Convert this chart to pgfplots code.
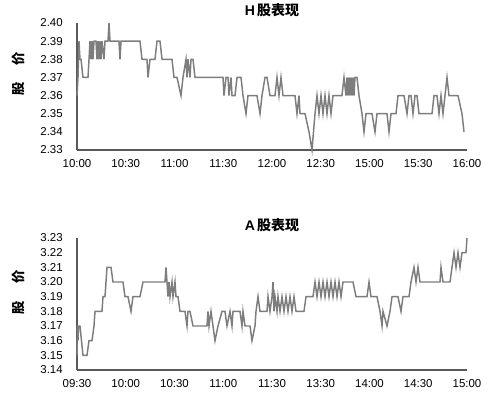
\documentclass[border=0pt]{standalone}
\usepackage{fontspec}
\setmainfont{Liberation Sans}
\newfontfamily\cjk{Noto Sans CJK SC}
\usepackage{pgfplots}
\pgfplotsset{compat=1.18}
\definecolor{linegray}{RGB}{125,125,125}
\definecolor{axgray}{RGB}{90,90,90}
\pgfplotsset{
  panel/.style={
    scale only axis, width=292.5pt, clip=false,
    axis x line*=bottom, axis y line*=left,
    axis line style={axgray, line width=0.8pt, -},
    major tick length=0pt,
    xmin=0, xmax=390,
    xtick={0,48.75,97.5,146.25,195,243.75,292.5,341.25,390},
    /pgf/number format/assume math mode=true,
    ticklabel style={font=\fontsize{8.6}{9}\selectfont, text=black},
    yticklabel style={/pgf/number format/fixed, /pgf/number format/fixed zerofill, /pgf/number format/precision=2, inner sep=0pt, xshift=-10.5pt},
    xticklabel style={inner sep=0pt, yshift=-7pt},
    title style={font=\fontsize{10.5}{12}\selectfont\bfseries, yshift=-5pt},
  }
}
\begin{document}
\begin{tikzpicture}[x=1pt,y=1pt]
\path[use as bounding box] (0,0) rectangle (375,-302.25);
\begin{axis}[panel, at={(57.75pt,-17.25pt)}, anchor=north west,
  height=95.25pt, ymin=2.33, ymax=2.40, ytick={2.33,2.34,...,2.405},
  xticklabels={10:00,10:30,11:00,11:30,12:00,12:30,15:00,15:30,16:00},
  title={H\,{\cjk 股表现}},
  ylabel={\cjk\bfseries 股\hspace{1.3em}价},
  ylabel style={at={(axis description cs:-0.151,0.60)}, anchor=center, rotate=0, font=\fontsize{10}{12}\selectfont},
]
\addplot[linegray, line width=1.1pt] coordinates {
(0,2.36)(1,2.37)(2,2.39)(3,2.38)(4,2.38)(6,2.37)(11,2.37)(12,2.38)(13,2.39)(14,2.38)(15,2.39)(16,2.38)(17,2.39)(19,2.39)(20,2.38)(21,2.39)(22,2.38)(23,2.39)(24,2.38)(25,2.39)(27,2.38)(28,2.39)(31,2.39)(32,2.40)(33,2.39)(42,2.39)(43,2.38)(44,2.39)(63,2.39)(65,2.38)(70,2.38)(71,2.37)(73,2.38)(78,2.38)(80,2.39)(83,2.39)(85,2.38)(95,2.38)(97,2.37)(100,2.37)(104,2.36)(106,2.37)(109,2.38)(110,2.37)(111,2.38)(113,2.37)(114,2.38)(116,2.38)(118,2.37)(146,2.37)(147,2.36)(149,2.37)(151,2.37)(152,2.36)(154,2.37)(155,2.36)(158,2.36)(160,2.37)(164,2.37)(166,2.36)(169,2.35)(171,2.36)(180,2.36)(183,2.35)(185,2.36)(188,2.37)(190,2.37)(193,2.36)(198,2.36)(200,2.37)(202,2.36)(204,2.37)(206,2.36)(218,2.36)(220,2.35)(222,2.36)(223,2.35)(228,2.35)(232,2.34)(235,2.33)(238,2.35)(240,2.36)(242,2.35)(244,2.36)(246,2.35)(248,2.36)(250,2.35)(252,2.36)(254,2.35)(256,2.36)(265,2.36)(267,2.37)(269,2.36)(270,2.37)(271,2.36)(272,2.37)(273,2.36)(274,2.37)(275,2.36)(276,2.37)(277,2.36)(278,2.37)(280,2.37)(282,2.36)(285,2.35)(287,2.34)(289,2.35)(295,2.35)(298,2.34)(300,2.35)(310,2.35)(312,2.34)(314,2.35)(319,2.35)(321,2.36)(327,2.36)(330,2.35)(332,2.36)(334,2.36)(336,2.35)(338,2.36)(340,2.36)(342,2.35)(355,2.35)(357,2.36)(360,2.36)(362,2.35)(364,2.36)(366,2.35)(370,2.37)(372,2.36)(381,2.36)(385,2.35)(387,2.34)
};
\end{axis}
\begin{axis}[panel, at={(57.75pt,-178.5pt)}, anchor=north west,
  height=99pt, ymin=3.14, ymax=3.23, ytick={3.14,3.15,...,3.235},
  xticklabels={09:30,10:00,10:30,11:00,11:30,13:30,14:00,14:30,15:00},
  title={A\,{\cjk 股表现}},
  ylabel={\cjk\bfseries 股\hspace{1.3em}价},
  ylabel style={at={(axis description cs:-0.151,0.59)}, anchor=center, rotate=0, font=\fontsize{10}{12}\selectfont},
]
\addplot[linegray, line width=1.1pt] coordinates {
(0,3.15)(0.5,3.17)(1,3.16)(1.5,3.17)(3,3.17)(6,3.15)(10,3.15)(12,3.16)(15,3.16)(17,3.17)(18,3.18)(25,3.18)(26,3.19)(28,3.19)(29,3.20)(30,3.21)(34,3.21)(36,3.20)(46,3.20)(48,3.19)(51,3.19)(54,3.18)(56,3.19)(63,3.19)(66,3.20)(88,3.20)(89,3.21)(90,3.20)(91,3.19)(92,3.20)(93,3.19)(95,3.20)(96,3.19)(98,3.20)(99,3.19)(101,3.19)(103,3.18)(105,3.18)(108,3.18)(110,3.17)(111,3.18)(113,3.18)(116,3.17)(130,3.17)(131,3.18)(132,3.17)(134,3.18)(136,3.17)(138,3.16)(141,3.17)(145,3.18)(148,3.18)(150,3.17)(153,3.18)(155,3.17)(156,3.18)(163,3.18)(165,3.17)(166,3.18)(168,3.17)(173,3.17)(175,3.16)(178,3.17)(179,3.18)(181,3.19)(183,3.18)(190,3.18)(191,3.19)(193,3.18)(195,3.19)(196,3.20)(197,3.18)(198,3.19)(200,3.18)(201,3.19)(203,3.18)(205,3.19)(207,3.18)(209,3.19)(211,3.18)(213,3.19)(215,3.18)(217,3.19)(219,3.18)(227,3.18)(229,3.19)(236,3.19)(238,3.20)(240,3.19)(242,3.20)(244,3.19)(246,3.20)(248,3.19)(250,3.20)(252,3.19)(254,3.20)(256,3.19)(258,3.20)(260,3.19)(262,3.20)(264,3.19)(266,3.20)(276,3.20)(279,3.19)(290,3.19)(292,3.20)(294,3.19)(300,3.19)(303,3.18)(305,3.17)(306,3.18)(310,3.17)(313,3.18)(315,3.19)(321,3.19)(324,3.18)(326,3.19)(332,3.19)(334,3.20)(337,3.21)(339,3.20)(341,3.21)(343,3.20)(363,3.20)(364,3.21)(366,3.20)(373,3.20)(375,3.21)(377,3.22)(379,3.21)(381,3.22)(383,3.21)(385,3.22)(389,3.22)(390,3.23)
};
\end{axis}
\end{tikzpicture}
\end{document}
